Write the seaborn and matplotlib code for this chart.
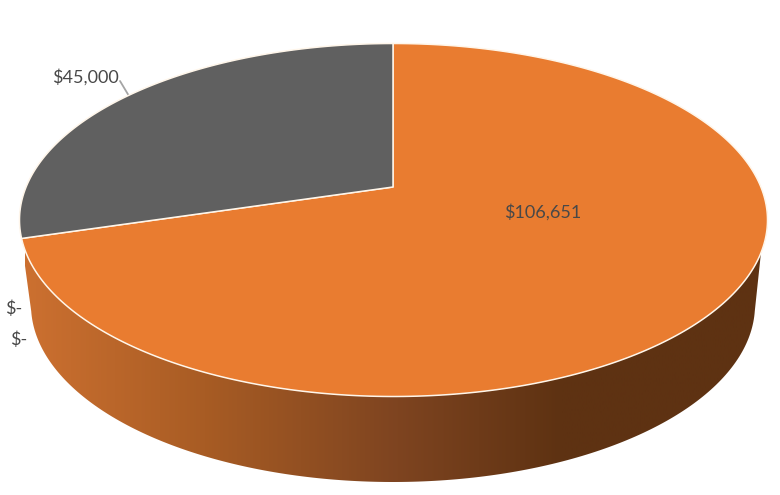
"""3D look pie chart, two real slices and two empty ones"""
import numpy as np
import matplotlib
matplotlib.use('Agg')
import matplotlib.pyplot as plt
import seaborn as sns
from matplotlib.colors import LinearSegmentedColormap
from matplotlib.patches import Polygon

# slice values, clockwise from the top
values = [106651, 45000, 0, 0]
slice_colors = ['#E97C30', '#606060']

# side wall shading, left to right
wall_stops = [0.0, 0.24, 0.5, 0.72, 1.0]
wall_shades = ['#CC7030', '#A85C24', '#7E4420', '#5E3212', '#5E3212']

sns.set_theme(style='white')
plt.rcParams['font.family'] = ['Lato', 'DejaVu Sans']


def fmt_money(v):
    return f'${v:,.0f}' if v else '$-'


# geometry of the pie in image pixels
APEX = (393, 187)
TOP = dict(cx=393.5, cy=220, a=374, b=176.5)
BASE = dict(cx=393, cy=305, a=362, b=177)
TILT = 0.458  # squash of the angles seen from the apex


def ellipse_pts(e, t):
    return e['cx'] + e['a'] * np.cos(t), e['cy'] + e['b'] * np.sin(t)


def rim_point(theta):
    """ray from the apex hits the top ellipse. theta clockwise from north, radians"""
    dx, dy = np.sin(theta), -TILT * np.cos(theta)
    ox = (APEX[0] - TOP['cx']) / TOP['a']
    oy = (APEX[1] - TOP['cy']) / TOP['b']
    ux, uy = dx / TOP['a'], dy / TOP['b']
    A = ux ** 2 + uy ** 2
    B = 2 * (ox * ux + oy * uy)
    C = ox ** 2 + oy ** 2 - 1
    s = (-B + np.sqrt(B ** 2 - 4 * A * C)) / (2 * A)
    return APEX[0] + s * dx, APEX[1] + s * dy


fig, ax = plt.subplots(figsize=(7.8, 4.95), dpi=100)
fig.subplots_adjust(0, 0, 1, 1)
ax.set_xlim(0, 780)
ax.set_ylim(495, 0)
ax.axis('off')

# side wall
t_top = np.linspace(np.radians(-5), np.radians(176), 200)
t_base = np.linspace(np.radians(178), np.radians(2), 200)
tx, ty = ellipse_pts(TOP, t_top)
bx, by = ellipse_pts(BASE, t_base)
wall = Polygon(np.column_stack([np.r_[tx, bx], np.r_[ty, by]]), closed=True,
               fc='none', ec='none', transform=ax.transData)
ax.add_patch(wall)
cmap = LinearSegmentedColormap.from_list('wall', list(zip(wall_stops, wall_shades)))
grad = ax.imshow(np.linspace(0, 1, 256)[None, :], cmap=cmap, aspect='auto',
                 extent=[25, 770, 495, 0], zorder=1)
grad.set_clip_path(wall)
ax.set_xlim(0, 780)
ax.set_ylim(495, 0)

# top face, slices from the values
shares = np.array(values, dtype=float) / sum(values)
edges = np.r_[0, np.cumsum(shares)] * 2 * np.pi
for i, col in enumerate(slice_colors):
    th = np.linspace(edges[i], edges[i + 1], 300)
    xs, ys = rim_point(th)
    # cream seam only shows against the wall and between the slices
    ax.fill(np.r_[APEX[0], xs], np.r_[APEX[1], ys], fc=col, ec='#FFF6EA',
            lw=1.1, joinstyle='round', zorder=3)

# labels
txt = dict(color='#484848', fontsize=13, va='center', zorder=5)
ax.text(504, 212, fmt_money(values[0]), ha='left', **txt)
ax.text(52, 77, fmt_money(values[1]), ha='left', **txt)
ax.text(5, 309, fmt_money(values[2]), ha='left', **txt)
ax.text(10, 340, fmt_money(values[3]), ha='left', **txt)
ax.plot([120, 129], [81, 96], color='#A5A5A5', lw=1.3, zorder=2)

plt.savefig('out.png', dpi=100)
plt.close()
